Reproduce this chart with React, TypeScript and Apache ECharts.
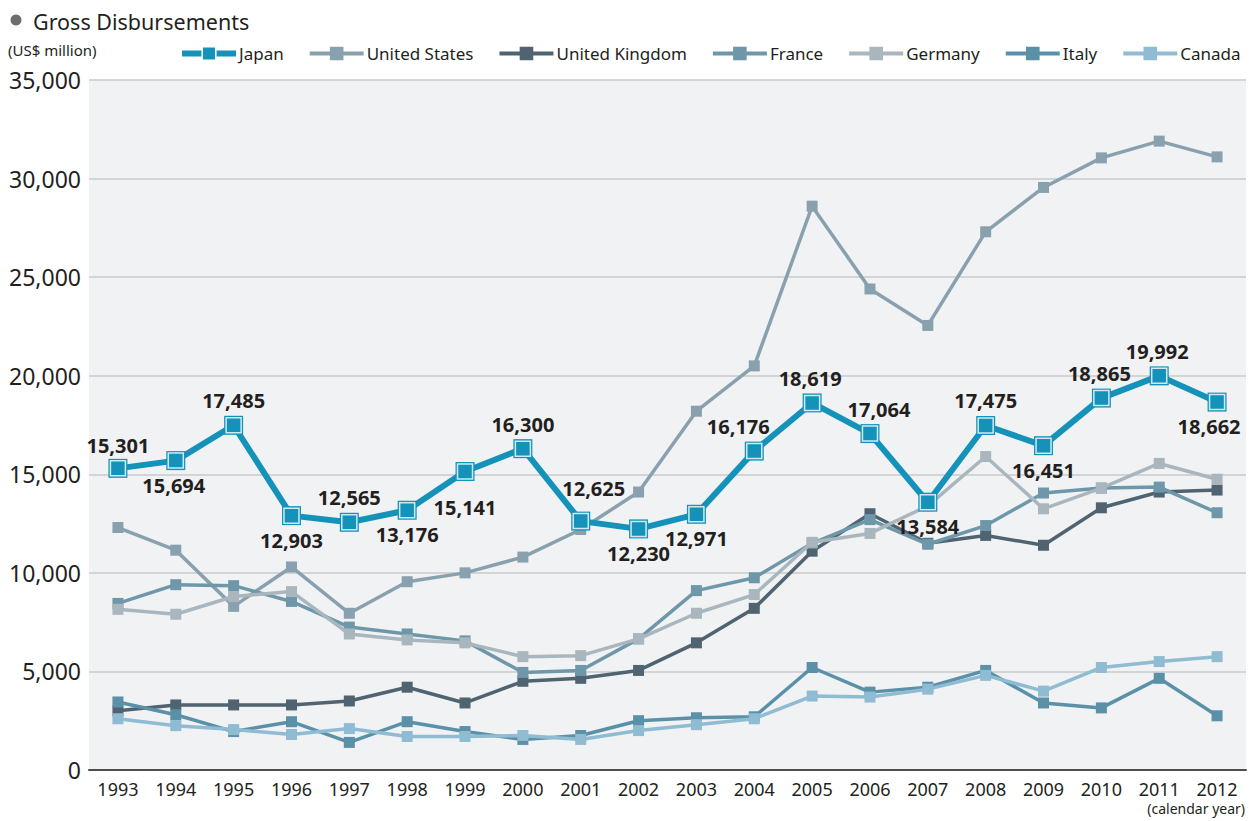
import React, { useEffect, useRef } from "react";
import * as echarts from "echarts";

const years = ["1993","1994","1995","1996","1997","1998","1999","2000","2001","2002","2003","2004","2005","2006","2007","2008","2009","2010","2011","2012"];
const japan = [15301,15694,17485,12903,12565,13176,15141,16300,12625,12230,12971,16176,18619,17064,13584,17475,16451,18865,19992,18662];
const unitedStates = [12300,11150,8300,10300,7950,9550,10000,10800,12200,14100,18200,20500,28600,24400,22550,27300,29550,31050,31900,31100];
const unitedKingdom = [3000,3300,3300,3300,3500,4200,3400,4500,4650,5050,6450,8200,11100,13000,11500,11900,11400,13300,14100,14200];
const france = [8450,9400,9350,8550,7250,6900,6550,4950,5050,6650,9100,9750,11500,12700,11450,12400,14050,14300,14350,13050];
const germany = [8150,7900,8800,9050,6900,6600,6450,5750,5800,6650,7950,8900,11550,12000,13400,15900,13250,14300,15550,14750];
const italy = [3450,2800,1950,2450,1400,2450,1950,1550,1750,2500,2650,2700,5200,3950,4200,5050,3400,3150,4650,2750];
const canada = [2600,2250,2050,1800,2100,1700,1700,1750,1550,2000,2300,2600,3750,3700,4100,4800,4000,5200,5500,5750];

const japanLabelPos = ["top","bottom","top","bottom","top","bottom","bottom","top","top","bottom","bottom","top","top","top","bottom","top","bottom","top","top","bottom"];
const japanLabelOffset: number[][] = [[0,2],[-2,0],[0,0],[0,0],[0,0],[0,0],[0,11],[0,0],[13,-8],[0,0],[0,0],[-16,0],[-2,0],[9,0],[0,0],[0,0],[0,0],[-2,0],[-2,0],[-8,0]];

const seriesNames = ["Japan","United States","United Kingdom","France","Germany","Italy","Canada"];
const colors: Record<string,string> = {
  "Japan": "#1592b9",
  "United States": "#89a1ae",
  "United Kingdom": "#4f6470",
  "France": "#6e98aa",
  "Germany": "#a9b6be",
  "Italy": "#5a91a9",
  "Canada": "#8fbcd2",
};

const FONT = "'Noto Sans', 'Open Sans', sans-serif";
const TEXT = "#231f20";

export default function App() {
  const ref = useRef<HTMLDivElement>(null);
  useEffect(() => {
    if (!ref.current) return;
    const chart = echarts.init(ref.current, undefined, { renderer: "svg" });
    const others: [string, number[]][] = [
      ["United States", unitedStates],
      ["United Kingdom", unitedKingdom],
      ["France", france],
      ["Germany", germany],
      ["Italy", italy],
      ["Canada", canada],
    ];
    const fmt = (v: number) => v.toLocaleString("en-US");
    const otherSeries = others.map(([name, data], i) => ({
      name,
      type: "line",
      data,
      symbol: "rect",
      symbolSize: 11,
      z: 2 + i,
      lineStyle: { width: 3.5, color: colors[name] },
      itemStyle: { color: colors[name] },
    }));
    chart.setOption({
      animation: false,
      textStyle: { fontFamily: FONT },
      title: {
        text: "Gross Disbursements",
        left: 28,
        top: 5,
        textStyle: { fontSize: 21.5, color: TEXT, fontFamily: FONT, fontWeight: "normal" },
      },
      legend: {
        left: 174,
        top: 40,
        itemWidth: 54,
        itemHeight: 17,
        itemGap: 24,
        textStyle: { fontSize: 17, color: TEXT, fontFamily: FONT, padding: [0, 0, 0, -2] },
        data: seriesNames.map((n) =>
          n === "Japan"
            ? { name: n, itemStyle: { borderColor: "#fff", borderWidth: 1.5 }, lineStyle: { width: 6 } }
            : { name: n, lineStyle: { width: 4 } }
        ),
      },
      grid: {
        left: 89,
        right: 6,
        top: 80,
        bottom: 51,
        show: true,
        backgroundColor: "#f1f2f4",
        borderWidth: 0,
      },
      xAxis: {
        type: "category",
        data: years,
        boundaryGap: true,
        axisTick: { show: false },
        axisLine: { lineStyle: { color: "#4d4d4f", width: 2 } },
        axisLabel: { fontSize: 18, color: TEXT, margin: 10, fontFamily: FONT },
        splitLine: { show: false },
      },
      yAxis: {
        type: "value",
        min: 0,
        max: 35000,
        interval: 5000,
        axisLine: { show: false },
        axisTick: { show: false },
        axisLabel: { fontSize: 23, color: TEXT, margin: 8, fontFamily: FONT, formatter: (v: number) => fmt(v) },
        splitLine: { lineStyle: { color: "#c9cacc", width: 1.5 } },
      },
      graphic: [
        {
          type: "circle",
          shape: { cx: 16, cy: 20, r: 5.5 },
          style: { fill: "#6d6e71" },
        },
        {
          type: "text",
          left: 8,
          top: 42,
          style: { text: "(US$ million)", fontSize: 15, fill: TEXT, fontFamily: FONT },
        },
        {
          type: "text",
          right: 7,
          top: 801,
          style: { text: "(calendar year)", fontSize: 14, fill: TEXT, fontFamily: FONT },
        },
      ],
      series: [
        ...otherSeries,
        {
          name: "Japan",
          type: "line",
          z: 20,
          data: japan.map((v, i) => ({
            value: v,
            label: { position: japanLabelPos[i], offset: japanLabelOffset[i] },
          })),
          symbol: "rect",
          symbolSize: 19,
          lineStyle: { width: 6, color: colors["Japan"] },
          itemStyle: { color: colors["Japan"] },
          label: {
            show: true,
            fontSize: 20,
            fontWeight: "bold",
            color: TEXT,
            fontFamily: FONT,
            distance: 5,
            formatter: (p: any) => fmt(p.value),
          },
        },
        {
          name: "JapanMarker",
          type: "scatter",
          z: 21,
          silent: true,
          data: japan,
          symbol: "rect",
          symbolSize: 15,
          itemStyle: { color: colors["Japan"], borderColor: "#ffffff", borderWidth: 1.5 },
        },
      ],
    });
    return () => chart.dispose();
  }, []);
  return (
    <div
      ref={ref}
      style={{ position: "fixed", left: 0, top: 0, width: 1252, height: 821, background: "#fff" }}
    />
  );
}
